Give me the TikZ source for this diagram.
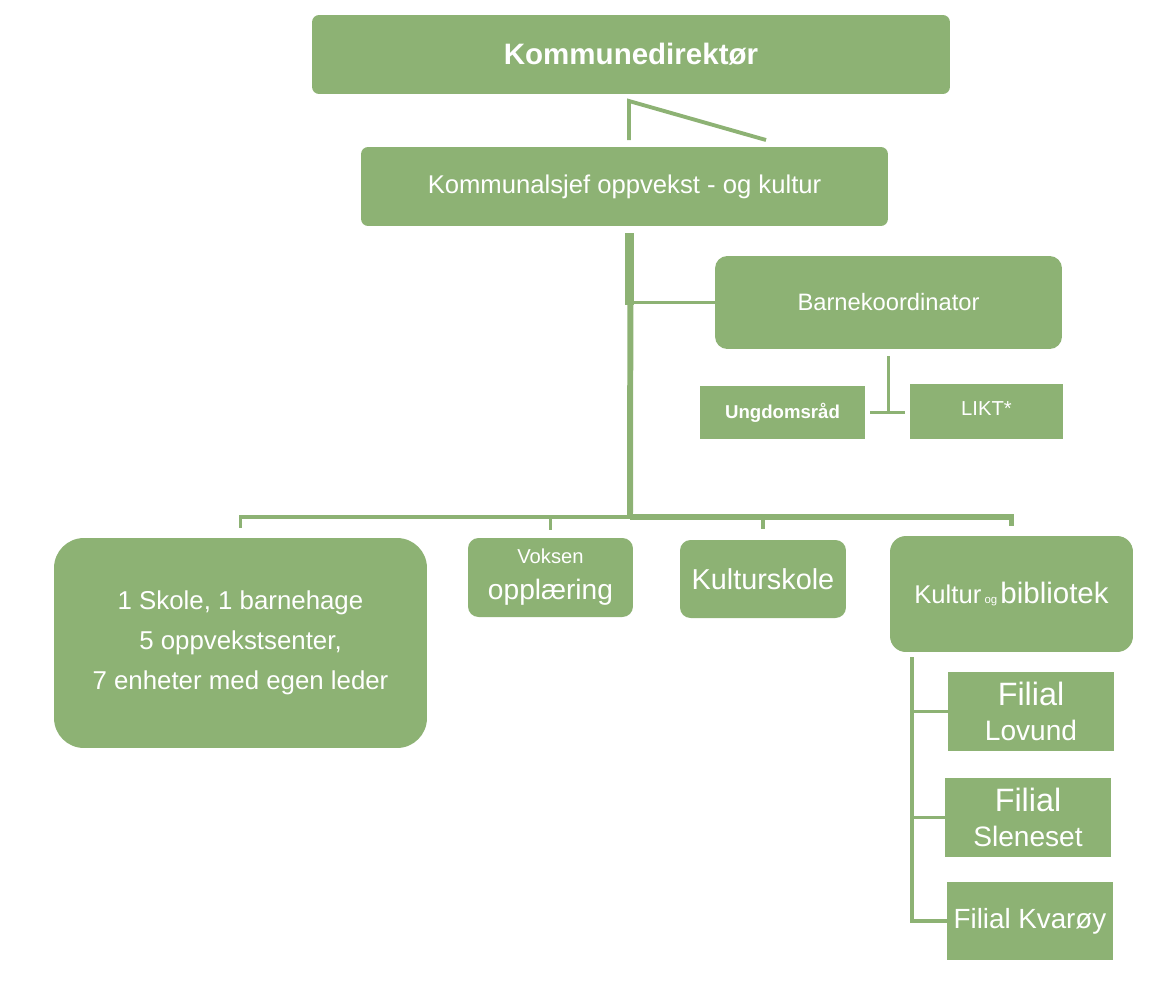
\documentclass[tikz,border=0pt]{standalone}
\usepackage{fontspec}
\setmainfont{Liberation Sans}
\usetikzlibrary{positioning}
\definecolor{sage}{RGB}{141,178,116}
\tikzset{
	box/.style={rectangle, fill=sage, text=white, align=center, inner sep=0pt},
	rbox/.style={box, rounded corners=#1},
	rbox/.default=4pt,
	link/.style={draw=sage, line width=2.2pt},
	fat/.style={draw=sage, line width=3.4pt}
}
\newcommand{\fs}[2]{\fontsize{#1}{#2}\selectfont}

\begin{document}
\begin{tikzpicture}[x=0.02cm, y=-0.02cm]
\useasboundingbox (0,0) rectangle (1157,1005);
\node[rbox, minimum width=12.76cm, minimum height=1.58cm, font=\fs{16.8}{20}\bfseries] (chief) at (631,54.5) {Kommunedirektør};
\node[rbox, minimum width=10.54cm, minimum height=1.58cm, font=\fs{14.6}{17}] (sjef) at (624.5,186.5) {Kommunalsjef oppvekst - og kultur};
\node[rbox=7pt, minimum width=6.94cm, minimum height=1.86cm, font=\fs{13.5}{16}] (barn) at (888.5,302.5) {Barnekoordinator};
\node[box, minimum width=3.3cm, minimum height=1.06cm, font=\fs{10.6}{12}\bfseries] (ungd) at (782.5,412.5) {Ungdomsråd};
\node[box, minimum width=3.06cm, minimum height=1.1cm, font=\fs{11.5}{12}] (likt) at (986.5,411.5) {\raisebox{3.5pt}{LIKT*}};
\node[rbox=17pt, minimum width=7.46cm, minimum height=4.2cm, font=\fs{14.7}{22.8}] (skole) at (240.5,643) {1 Skole, 1 barnehage\\5 oppvekstsenter,\\7 enheter med egen leder};
\node[rbox=6pt, minimum width=3.3cm, minimum height=1.58cm, font=\fs{16}{20.5}] (voksen) at (550.5,577.5) {{\fs{11.5}{14}Voksen}\\opplæring};
\node[rbox=6pt, minimum width=3.32cm, minimum height=1.56cm, font=\fs{16.4}{18}] (kskole) at (763,579) {Kulturskole};
\node[rbox=9pt, minimum width=4.86cm, minimum height=2.32cm, font=\fs{14.6}{18}] (kbib) at (1011.5,594) {Kultur{\fs{6.5}{8} og }{\fs{16.8}{18}bibliotek}};
\node[box, minimum width=3.32cm, minimum height=1.58cm, font=\fs{16}{19.5}] (lovund) at (1031,711.5) {{\fs{18.4}{20}Filial}\\Lovund};
\node[box, minimum width=3.32cm, minimum height=1.58cm, font=\fs{16}{19.5}] (slen) at (1028,817.5) {{\fs{18.4}{20}Filial}\\Sleneset};
\node[box, minimum width=3.32cm, minimum height=1.56cm, font=\fs{15.8}{18}] (kvar) at (1030,921) {Filial Kvarøy};

% top connector
\coordinate (t1) at (629,101);
\coordinate (t2) at (629,140);
\coordinate (t3) at (766,140);
\draw[link] (t2) -- (t1) -- (t3);

% trunk and bus
\coordinate (trunk) at (630,517);
\draw[fat] ([xshift=0.12cm, yshift=-0.14cm]sjef.south) -- (trunk);
\draw[draw=sage, line width=5.5pt] ([xshift=0.1cm, yshift=-0.14cm]sjef.south) -- ++(0,72);
\draw[link] (barn.west -| trunk) -- (barn.west);
\draw[link] (skole.north) ++(0,-10) |- (trunk);
\draw[link] (voksen.north) ++(0,-8) -- ++(0,-15);
\draw[fat] (trunk) -| ([yshift=0.2cm]kbib.north);
\draw[link] ([yshift=0.22cm]kskole.north) -- ++(0,-12);

% barnekoordinator
\draw[link] ([yshift=-0.14cm]barn.south) -- ++(0,56) coordinate (bk);
\draw[link] (ungd.east) ++(5,0) -- ++(35,0);

% bibliotek branches
\coordinate (bb) at (912,657);
\draw[link] (bb) |- (kvar.west);
\draw[link] (lovund.west -| bb) -- (lovund.west);
\draw[link] (slen.west -| bb) -- (slen.west);
\end{tikzpicture}
\end{document}
